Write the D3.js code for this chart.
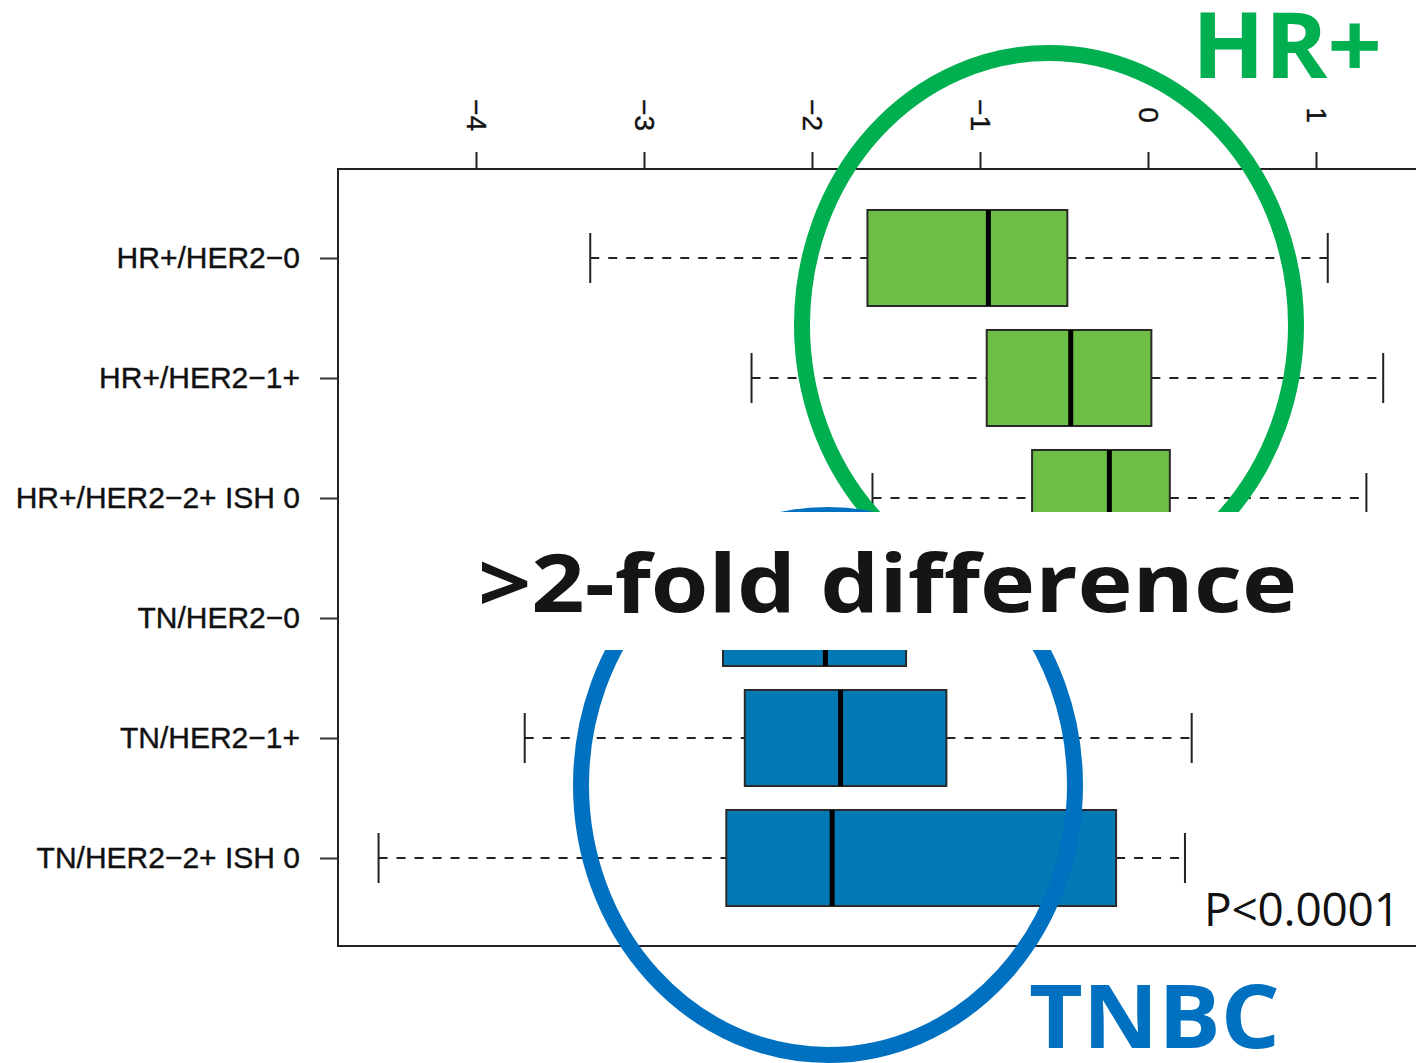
<!DOCTYPE html>
<html>
<head>
<meta charset="utf-8">
<script src="https://cdn.jsdelivr.net/npm/d3@7"></script>
<style>
  html, body { margin: 0; padding: 0; background: #fff; }
  svg { display: block; }
</style>
</head>
<body>
<svg id="chart" width="1416" height="1063"></svg>
<script>
// ---- data ----
const categories = ["HR+/HER2\u22120", "HR+/HER2\u22121+", "HR+/HER2\u22122+ ISH 0",
                    "TN/HER2\u22120", "TN/HER2\u22121+", "TN/HER2\u22122+ ISH 0"];
const groups = ["HR+", "HR+", "HR+", "TN", "TN", "TN"];
const whiskerLow  = [-3.32, -2.36, -1.64, -3.90, -3.71, -4.58];
const q1          = [-1.67, -0.96, -0.69, -2.53, -2.40, -2.51];
const median      = [-0.95, -0.46, -0.23, -1.92, -1.83, -1.88];
const q3          = [-0.48,  0.02,  0.13, -1.44, -1.20, -0.19];
const whiskerHigh = [ 1.07,  1.40,  1.30,  0.50,  0.26,  0.22];
const xTicks = [-4, -3, -2, -1, 0, 1];
const pLabel = "P<0.0001";
const headline = ">2-fold difference";
const groupLabels = ["HR+", "TNBC"];

const rows = categories.map((c, i) => ({
  cat: c, group: groups[i], lo: whiskerLow[i], q1: q1[i], med: median[i], q3: q3[i], hi: whiskerHigh[i]
}));

const svg = d3.select("#chart");
const frame = { left: 338, top: 169, right: 1430, bottom: 946 };

const x = d3.scaleLinear().domain([-4, 1]).range([476, 1316]);
const y = d3.scalePoint().domain(categories).range([258, 858]);
const boxH = 96;
const fill = d3.scaleOrdinal().domain(["HR+", "TN"]).range(["#6dbe45", "#0379b6"]);

// frame
svg.append("rect")
  .attr("x", frame.left).attr("y", frame.top)
  .attr("width", frame.right - frame.left).attr("height", frame.bottom - frame.top)
  .attr("fill", "none").attr("stroke", "#222").attr("stroke-width", 2);

// top axis
const xAxis = d3.axisTop(x).tickValues(xTicks).tickSize(17).tickPadding(0)
  .tickFormat(d => d3.format("d")(d).replace("-", "\u2212"));
const gx = svg.append("g").attr("transform", `translate(0,${frame.top})`).call(xAxis);
gx.select(".domain").remove();
gx.selectAll(".tick line").attr("stroke", "#222").attr("stroke-width", 2);
gx.selectAll(".tick text")
  .attr("font-family", "'Liberation Sans', Arial, sans-serif")
  .attr("font-size", 28).attr("fill", "#111")
  .attr("stroke", "#111").attr("stroke-width", 0.4)
  .attr("text-anchor", "middle").attr("dominant-baseline", "central")
  .attr("transform", "translate(0,-54) rotate(90)")
  .attr("x", 0).attr("y", 0).attr("dy", null);

// left axis
const yAxis = d3.axisLeft(y).tickSize(18).tickPadding(20);
const gy = svg.append("g").attr("transform", `translate(${frame.left},0)`).call(yAxis);
gy.select(".domain").remove();
gy.selectAll(".tick line").attr("stroke", "#333").attr("stroke-width", 2);
gy.selectAll(".tick text")
  .attr("font-family", "'Liberation Sans', Arial, sans-serif")
  .attr("font-size", 30).attr("fill", "#111")
  .attr("stroke", "#111").attr("stroke-width", 0.4);

// boxplots
const bp = svg.append("g");
const rg = bp.selectAll("g.row").data(rows).join("g").attr("class", "row");
rg.append("line")
  .attr("x1", d => x(d.lo)).attr("x2", d => x(d.q1))
  .attr("y1", d => y(d.cat)).attr("y2", d => y(d.cat))
  .attr("stroke", "#222").attr("stroke-width", 2).attr("stroke-dasharray", "9,9");
rg.append("line")
  .attr("x1", d => x(d.q3)).attr("x2", d => x(d.hi))
  .attr("y1", d => y(d.cat)).attr("y2", d => y(d.cat))
  .attr("stroke", "#222").attr("stroke-width", 2).attr("stroke-dasharray", "9,9");
rg.append("line")
  .attr("x1", d => x(d.lo)).attr("x2", d => x(d.lo))
  .attr("y1", d => y(d.cat) - 25).attr("y2", d => y(d.cat) + 25)
  .attr("stroke", "#222").attr("stroke-width", 2);
rg.append("line")
  .attr("x1", d => x(d.hi)).attr("x2", d => x(d.hi))
  .attr("y1", d => y(d.cat) - 25).attr("y2", d => y(d.cat) + 25)
  .attr("stroke", "#222").attr("stroke-width", 2);
rg.append("rect")
  .attr("x", d => x(d.q1)).attr("width", d => x(d.q3) - x(d.q1))
  .attr("y", d => y(d.cat) - boxH / 2).attr("height", boxH)
  .attr("fill", d => fill(d.group)).attr("stroke", "#2a2a2a").attr("stroke-width", 2);
rg.append("line")
  .attr("x1", d => x(d.med)).attr("x2", d => x(d.med))
  .attr("y1", d => y(d.cat) - boxH / 2).attr("y2", d => y(d.cat) + boxH / 2)
  .attr("stroke", "#000").attr("stroke-width", 5);

// P value
svg.append("text").attr("x", 1204).attr("y", 926)
  .attr("font-family", "'Open Sans', 'Noto Sans', sans-serif")
  .attr("font-size", 46).attr("fill", "#111")
  .attr("textLength", 196).attr("lengthAdjust", "spacing").text(pLabel);

// highlight ellipses
svg.append("ellipse").attr("cx", 1049).attr("cy", 325).attr("rx", 247).attr("ry", 272)
  .attr("fill", "none").attr("stroke", "#00b050").attr("stroke-width", 16);
svg.append("ellipse").attr("cx", 828).attr("cy", 785).attr("rx", 247).attr("ry", 270)
  .attr("fill", "none").attr("stroke", "#0070c0").attr("stroke-width", 16);

// white band with headline
svg.append("rect").attr("x", 345).attr("y", 512).attr("width", 1100).attr("height", 138)
  .attr("fill", "#fff");
svg.append("text").attr("x", 478).attr("y", 612)
  .attr("font-family", "'Open Sans', 'Noto Sans', sans-serif").attr("font-weight", 700)
  .attr("font-size", 80).attr("fill", "#151515")
  .attr("textLength", 819).attr("lengthAdjust", "spacingAndGlyphs").text(headline);

// group labels
svg.append("text").attr("x", 1192).attr("y", 78)
  .attr("font-family", "'Open Sans', 'Noto Sans', sans-serif").attr("font-weight", 700)
  .attr("font-size", 92).attr("fill", "#00b050")
  .attr("textLength", 190).attr("lengthAdjust", "spacingAndGlyphs").text(groupLabels[0]);
svg.append("text").attr("x", 1029).attr("y", 1048)
  .attr("font-family", "'Open Sans', 'Noto Sans', sans-serif").attr("font-weight", 700)
  .attr("font-size", 88).attr("fill", "#0070c0")
  .attr("textLength", 251).attr("lengthAdjust", "spacingAndGlyphs").text(groupLabels[1]);
</script>
</body>
</html>
